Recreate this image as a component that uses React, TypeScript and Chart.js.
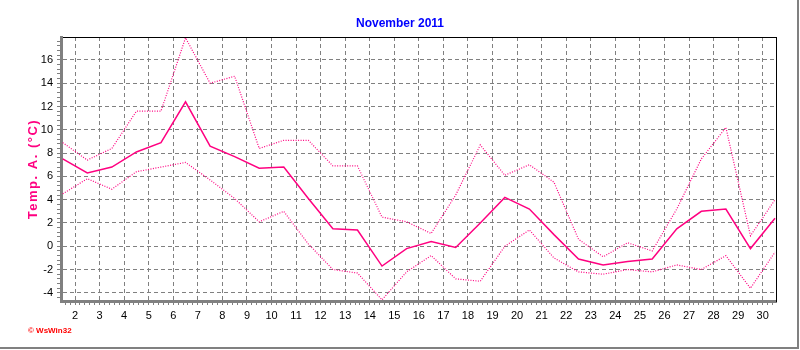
import React, { useEffect, useRef } from 'react';
import { Chart, registerables } from 'chart.js';

Chart.register(...registerables);

// Day of month (November 2011); each day's value is plotted at noon.
const days = [1, 2, 3, 4, 5, 6, 7, 8, 9, 10, 11, 12, 13, 14, 15, 16, 17, 18, 19, 20, 21, 22, 23, 24, 25, 26, 27, 28, 29, 30];
const maxTemp = [8.9, 7.4, 8.4, 11.6, 11.6, 17.9, 14.0, 14.6, 8.4, 9.1, 9.1, 6.9, 6.9, 2.5, 2.1, 1.1, 4.4, 8.7, 6.1, 7.0, 5.5, 0.6, -0.9, 0.3, -0.4, 3.2, 7.5, 10.2, 0.9, 4.0];
const meanTemp = [7.5, 6.3, 6.8, 8.1, 8.9, 12.4, 8.6, 7.7, 6.7, 6.8, 4.1, 1.5, 1.4, -1.7, -0.2, 0.4, -0.1, 2.0, 4.2, 3.2, 1.0, -1.1, -1.6, -1.3, -1.1, 1.5, 3.0, 3.2, -0.2, 2.4];
const minTemp = [4.5, 5.8, 4.9, 6.4, 6.8, 7.2, 5.7, 4.1, 2.1, 3.0, 0.2, -2.0, -2.3, -4.6, -2.2, -0.8, -2.8, -3.0, 0.0, 1.4, -1.0, -2.2, -2.4, -2.0, -2.2, -1.6, -2.0, -0.8, -3.6, -0.5];

const title = 'November 2011';
const yTitle = 'Temp. A. (°C)';
const credit = '© WsWin32';

const X_MIN = 1.43;
const X_MAX = 30.54;
const Y_MIN = -4.7;
const Y_MAX = 17.97;

const FONT = '"Liberation Sans", Arial, sans-serif';
const LINE = '#ff0080';
const GRID = '#808080';

const isMult = (v: number, m: number) => Math.abs(v / m - Math.round(v / m)) < 1e-6;

const toPoints = (vals: number[]) => days.map((d, i) => ({ x: d + 0.5, y: vals[i] }));

// Rotated y-axis title with letter spacing (like the original's GDI font)
const yTitlePlugin = {
  id: 'yTitleSpaced',
  afterDraw(chart: any) {
    const { ctx, chartArea } = chart;
    ctx.save();
    ctx.translate(33, (chartArea.top + chartArea.bottom) / 2);
    ctx.rotate(-Math.PI / 2);
    ctx.font = `bold 13px ${FONT}`;
    (ctx as any).letterSpacing = '1.5px';
    ctx.fillStyle = LINE;
    ctx.textAlign = 'center';
    ctx.textBaseline = 'middle';
    ctx.fillText(yTitle, 0, 0);
    ctx.restore();
  },
};

export default function App() {
  const ref = useRef<HTMLCanvasElement | null>(null);

  useEffect(() => {
    if (!ref.current) return;
    const dotted = { borderColor: LINE, borderWidth: 1.2, borderDash: [1, 1.5], pointRadius: 0, tension: 0, xAxisID: 'x', yAxisID: 'y' };
    const chart = new Chart(ref.current, {
      type: 'line',
      data: {
        datasets: [
          { label: 'Max', data: toPoints(maxTemp), ...dotted },
          {
            label: 'Mean',
            data: toPoints(meanTemp),
            borderColor: LINE,
            borderWidth: 1.5,
            pointRadius: 0,
            tension: 0,
            xAxisID: 'x',
            yAxisID: 'y',
          },
          { label: 'Min', data: toPoints(minTemp), ...dotted },
        ],
      },
      options: {
        responsive: false,
        animation: false,
        events: [],
        layout: { padding: 0 },
        plugins: {
          legend: { display: false },
          tooltip: { enabled: false },
          title: {
            display: true,
            text: title,
            color: '#0000ff',
            font: { family: FONT, size: 12, weight: 'bold' },
            padding: { top: 16, bottom: 6.6 },
          },
        },
        scales: {
          x: {
            type: 'linear',
            position: 'bottom',
            min: X_MIN,
            max: X_MAX,
            afterFit: (s: any) => { s.height = 49; },
            ticks: {
              stepSize: 0.2,
              autoSkip: false,
              includeBounds: false,
              maxRotation: 0,
              minRotation: 0,
              padding: 4,
              color: '#000',
              font: { family: FONT, size: 11 },
              callback: (v: any) => (isMult(Number(v), 1) ? String(Math.round(Number(v))) : ''),
            },
            grid: {
              color: (c: any) => (c.tick && isMult(c.tick.value, 1) ? GRID : 'rgba(0,0,0,0)'),
              lineWidth: 1,
              tickColor: GRID,
              tickLength: 4,
            },
            border: { display: true, color: GRID, width: 3, dash: [4, 3] },
          },
          xTop: {
            type: 'linear',
            position: 'top',
            min: X_MIN,
            max: X_MAX,
            afterFit: (s: any) => { s.height = 0; },
            ticks: { display: false },
            grid: { display: false, drawOnChartArea: false, drawTicks: false },
            border: { display: true, color: '#000', width: 1 },
          },
          y: {
            type: 'linear',
            position: 'left',
            min: Y_MIN,
            max: Y_MAX,
            afterFit: (s: any) => { s.width = 61; },
            ticks: {
              stepSize: 0.4,
              autoSkip: false,
              includeBounds: false,
              padding: 4,
              color: '#000',
              font: { family: FONT, size: 11 },
              callback: (v: any) => (isMult(Number(v), 2) ? String(Math.round(Number(v))) : ''),
            },
            grid: {
              color: (c: any) => (c.tick && isMult(c.tick.value, 2) ? GRID : 'rgba(0,0,0,0)'),
              lineWidth: 1,
              tickColor: GRID,
              tickLength: 4,
            },
            border: { display: true, color: GRID, width: 3, dash: [4, 3] },
          },
          yRight: {
            type: 'linear',
            position: 'right',
            min: Y_MIN,
            max: Y_MAX,
            afterFit: (s: any) => { s.width = 24; },
            ticks: { display: false },
            grid: { display: false, drawOnChartArea: false, drawTicks: false },
            border: { display: true, color: '#000', width: 1 },
          },
        },
      } as any,
      plugins: [yTitlePlugin],
    });
    return () => chart.destroy();
  }, []);

  return (
    <div style={{ position: 'fixed', left: 0, top: 0, width: 800, height: 350, background: '#fff', overflow: 'hidden' }}>
      <canvas ref={ref} width={800} height={350} style={{ position: 'absolute', left: 0, top: 0, width: 800, height: 350 }} />
      <div
        style={{
          position: 'absolute', left: 0, top: 0, width: 797, height: 347,
          borderRight: '2px solid #808080', borderBottom: '2px solid #808080', pointerEvents: 'none',
        }}
      />
      <span
        style={{
          position: 'absolute', left: 28, top: 326, fontFamily: FONT, fontSize: 8, fontWeight: 'bold',
          color: '#ff0000', whiteSpace: 'nowrap', lineHeight: '10px',
        }}
      >
        {credit}
      </span>
    </div>
  );
}
